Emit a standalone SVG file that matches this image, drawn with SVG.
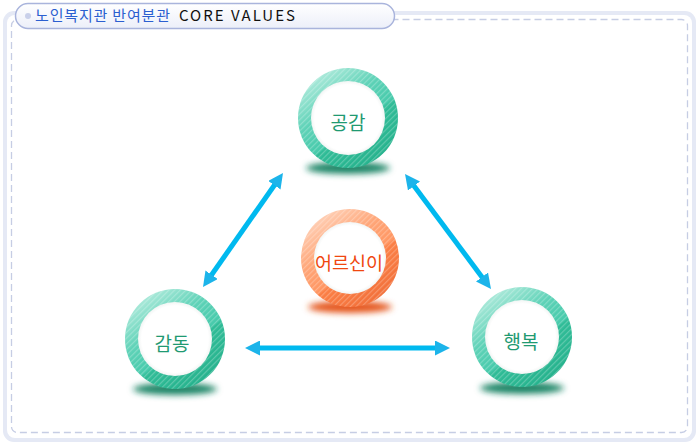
<svg xmlns="http://www.w3.org/2000/svg" width="700" height="445" viewBox="0 0 700 445">
  <defs>
    <style>
      .title { font-family: "Noto Sans CJK KR", "Noto Sans", sans-serif; font-size: 15px; }
      .lbl { font-family: "Noto Sans CJK KR", "Noto Sans", sans-serif; text-anchor: middle; dominant-baseline: central; }
      .green { fill: #1f9a72; font-size: 19px; }
      .orange { fill: #f0470f; font-size: 18.5px; }
      .arrow { stroke: #00b9ef; stroke-width: 5; fill: none; marker-start: url(#ah); marker-end: url(#ah); }
      .inner { fill: url(#innerG); }
    </style>
    <marker id="ah" viewBox="0 0 10 10" refX="2" refY="5" markerWidth="3" markerHeight="3" orient="auto-start-reverse">
      <path d="M0,0 L10,5 L0,10 Z" fill="#1cb4ea"/>
    </marker>
    <linearGradient id="pillG" x1="0" y1="0" x2="0" y2="1">
      <stop offset="0" stop-color="#ffffff"/>
      <stop offset="1" stop-color="#eceff9"/>
    </linearGradient>
    <linearGradient id="tealG" x1="0.15" y1="0.1" x2="0.75" y2="0.95">
      <stop offset="0" stop-color="#aeeadb"/>
      <stop offset="0.35" stop-color="#5ed2b7"/>
      <stop offset="0.6" stop-color="#47caab"/>
      <stop offset="0.63" stop-color="#30bc97"/>
      <stop offset="1" stop-color="#26b28d"/>
    </linearGradient>
    <linearGradient id="orangeG" x1="0.15" y1="0.1" x2="0.75" y2="0.95">
      <stop offset="0" stop-color="#ffd0b6"/>
      <stop offset="0.35" stop-color="#ffa577"/>
      <stop offset="0.6" stop-color="#ff9662"/>
      <stop offset="0.63" stop-color="#fb7f45"/>
      <stop offset="1" stop-color="#f2703a"/>
    </linearGradient>
    <radialGradient id="innerG" cx="0.5" cy="0.5" r="0.5">
      <stop offset="0.9" stop-color="#ffffff"/>
      <stop offset="1" stop-color="#f2f5f4"/>
    </radialGradient>
    <pattern id="stripes" width="4" height="4" patternUnits="userSpaceOnUse" patternTransform="rotate(45)">
      <rect width="1.2" height="4" fill="#ffffff" fill-opacity="0.25"/>
    </pattern>
    <filter id="blur" x="-30%" y="-100%" width="160%" height="300%">
      <feGaussianBlur stdDeviation="3"/>
    </filter>
  </defs>

  <!-- panel -->
  <g id="panel">
    <rect x="3" y="11" width="693" height="431" rx="11" fill="#e5e9f5"/>
    <rect x="7" y="15" width="685" height="423" rx="8" fill="#ffffff"/>
    <rect x="11.5" y="19.5" width="676" height="413" rx="6" fill="none" stroke="#c6cde4" stroke-width="1.3" stroke-dasharray="7 4"/>
  </g>

  <!-- title -->
  <g id="title">
    <rect x="15.5" y="3.5" width="379" height="25" rx="12.5" fill="url(#pillG)" stroke="#a9b4dc" stroke-width="1.5"/>
    <circle cx="28" cy="16" r="3" fill="#c9d0ea"/>
    <text class="title" x="35" y="21" fill="#2b5fd0" textLength="135" lengthAdjust="spacing">노인복지관 반여분관</text>
    <text class="title" x="179" y="21" fill="#111111" textLength="116" lengthAdjust="spacing">CORE VALUES</text>
  </g>

  <!-- connectors -->
  <g id="connectors">
    <line class="arrow" x1="209.9" y1="277.2" x2="276.1" y2="182.8"/>
    <line class="arrow" x1="412.2" y1="183.6" x2="483.8" y2="279.4"/>
    <line class="arrow" x1="257" y1="348" x2="438" y2="348"/>
  </g>

  <!-- nodes -->
  <g id="node-gonggam">
    <ellipse cx="348" cy="168" rx="42" ry="6" fill="#1a8566" filter="url(#blur)"/>
    <circle cx="348" cy="118" r="50" fill="url(#tealG)"/>
    <circle cx="348" cy="118" r="50" fill="url(#stripes)"/>
    <circle cx="348" cy="118" r="37" class="inner"/>
    <text class="lbl green" x="348" y="121">공감</text>
  </g>

  <g id="node-center">
    <ellipse cx="350" cy="307" rx="42" ry="6" fill="#e5561e" filter="url(#blur)"/>
    <circle cx="350" cy="258" r="49" fill="url(#orangeG)"/>
    <circle cx="350" cy="258" r="49" fill="url(#stripes)"/>
    <circle cx="350" cy="258" r="36" class="inner"/>
    <text class="lbl orange" x="349" y="262">어르신이</text>
  </g>

  <g id="node-gamdong">
    <ellipse cx="175" cy="389" rx="42" ry="6" fill="#1a8566" filter="url(#blur)"/>
    <circle cx="175" cy="339" r="50" fill="url(#tealG)"/>
    <circle cx="175" cy="339" r="50" fill="url(#stripes)"/>
    <circle cx="175" cy="339" r="37" class="inner"/>
    <text class="lbl green" x="172" y="342">감동</text>
  </g>

  <g id="node-haengbok">
    <ellipse cx="522" cy="388" rx="42" ry="6" fill="#1a8566" filter="url(#blur)"/>
    <circle cx="522" cy="337" r="50" fill="url(#tealG)"/>
    <circle cx="522" cy="337" r="50" fill="url(#stripes)"/>
    <circle cx="522" cy="337" r="37" class="inner"/>
    <text class="lbl green" x="521" y="340">행복</text>
  </g>
</svg>
